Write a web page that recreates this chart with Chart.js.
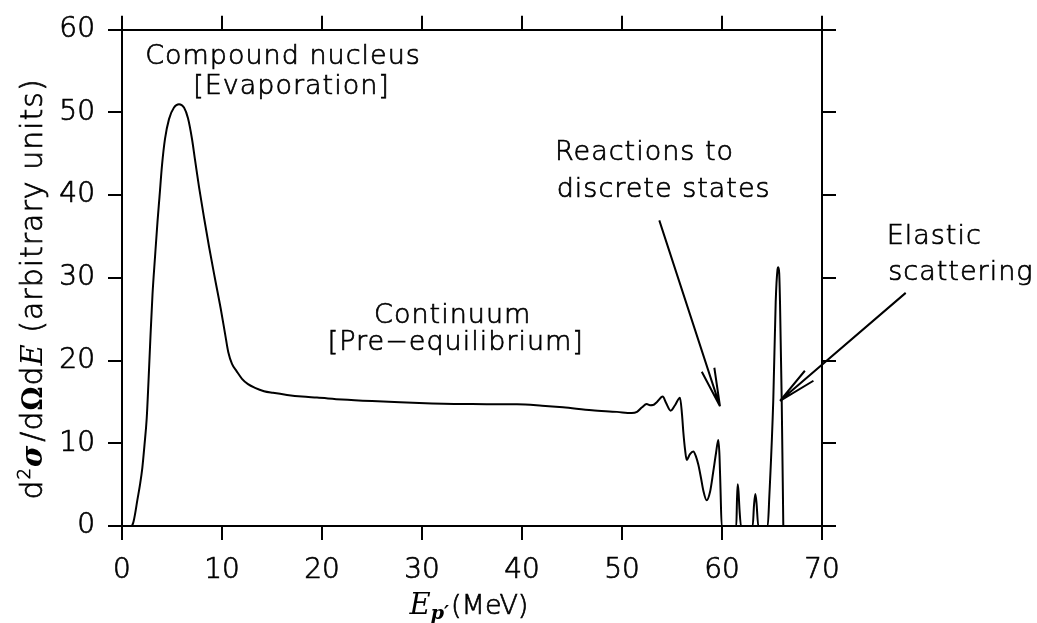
<!DOCTYPE html>
<html lang="en">
<head>
<meta charset="UTF-8">
<title>Proton emission spectrum</title>
<script src="https://cdn.jsdelivr.net/npm/chart.js"></script>
<style>
  body { margin: 0; background: #fff; }
  .wrap { width: 1037px; height: 623px; position: relative; }
</style>
</head>
<body>
<div class="wrap"><canvas id="spectrum"></canvas></div>
<script>
// outgoing proton energy (MeV)
const energy = [
  1.0, 1.15, 1.3, 1.53, 1.8, 2.03, 2.25, 2.47, 2.65, 2.85,
  3.05, 3.3, 3.55, 3.75, 4.0, 4.3, 4.7, 5.2, 5.7, 6.2,
  6.6, 7.0, 7.3, 7.7, 8.2, 8.7, 9.3, 9.87, 10.3, 10.63,
  11.0, 11.47, 12.0, 12.6, 13.3, 14.2, 15.1, 16.5,
  18, 19.5, 22, 25, 27.8, 31, 35, 39.5, 42, 44.1,
  47, 49.5, 50.97, 51.5, 52.0, 52.47, 52.8, 53.1, 53.5, 54.07,
  54.4, 54.87, 55.3, 55.8, 56.0, 56.13, 56.3, 56.47, 56.8, 57.13,
  57.4, 57.63, 57.9, 58.13, 58.47, 58.8, 59.13, 59.4, 59.63, 59.75,
  59.85, 59.97, 61.43, 61.5, 61.57, 61.65, 61.75, 61.9, 63.07, 63.2,
  63.33, 63.45, 63.63, 64.57, 64.73, 65.13, 65.37, 65.55, 65.63, 65.72,
  65.8, 65.97, 66.13
];
// double differential cross section (arbitrary units)
const sigma = [
  0, 0.5, 1.4, 3.1, 5.0, 7.0, 9.8, 13.0, 17.5, 23,
  28, 32.5, 36.8, 39.8, 43.6, 46.8, 49.2, 50.6, 51.0, 50.6,
  49.3, 46.8, 44.3, 41.0, 37.3, 33.8, 29.9, 26.3, 23.3, 21.0,
  19.6, 18.7, 17.8, 17.15, 16.7, 16.3, 16.1, 15.85,
  15.65, 15.53, 15.3, 15.1, 14.95, 14.82, 14.74, 14.72, 14.55, 14.35,
  14.0, 13.8, 13.65, 13.8, 14.35, 14.74, 14.6, 14.62, 15.0, 15.65,
  14.9, 13.95, 14.6, 15.5, 13.5, 11.4, 9.3, 8.0, 8.7, 9.0,
  8.4, 7.43, 5.8, 4.3, 3.1, 4.1, 6.6, 8.8, 10.4, 8.5,
  4.5, 0, 0, 3.2, 5.06, 4.2, 2, 0, 0, 2.5,
  3.87, 2.8, 0, 0, 3.5, 15.3, 27.1, 31.0, 31.3, 30.6,
  27.1, 15.3, 0
];

const xTicks = [0, 10, 20, 30, 40, 50, 60, 70];
const yTicks = [0, 10, 20, 30, 40, 50, 60];

// region labels, placed in data units
const noteText = ['Compound nucleus', '[Evaporation]', 'Continuum', '[Pre\u2212equilibrium]',
                  'Reactions to', 'discrete states', 'Elastic', 'scattering'];
const noteX = [16.1, 16.95, 33.07, 33.38, 43.3, 43.47, 76.47, 76.63];
const noteY = [55.85, 52.2, 24.5, 21.26, 44.2, 39.84, 34.1, 29.76];
const noteAlign = ['center', 'center', 'center', 'center', 'left', 'left', 'left', 'left'];

// pointer arrows: tail -> tip
const arrowFrom = [[53.73, 36.96], [78.37, 28.19]];
const arrowTo = [[59.8, 14.47], [65.8, 15.14]];

const FONT = 'DejaVu Sans';
const W = 1037, H = 623;

function fixBox(size, horizontal) {
  return scale => { if (horizontal) scale.height = size; else scale.width = size; };
}

function useTicks(list) {
  return scale => { scale.ticks = list.map(v => ({ value: v })); };
}

// draw a sequence of differently styled text pieces along the baseline
function drawRuns(ctx, runs, x, y) {
  let cx = x;
  runs.forEach(r => {
    ctx.font = r.font;
    ctx.fillText(r.text, cx, y - (r.rise || 0));
    if (r.thin) ctx.strokeText(r.text, cx, y - (r.rise || 0));
    cx += ctx.measureText(r.text).width + (r.gap || 0);
  });
}

function runsWidth(ctx, runs) {
  let w = 0;
  runs.forEach(r => { ctx.font = r.font; w += ctx.measureText(r.text).width + (r.gap || 0); });
  return w;
}

const annotate = {
  id: 'annotate',
  afterDraw(chart) {
    const ctx = chart.ctx;
    const xs = chart.scales.x, ys = chart.scales.y;
    ctx.save();
    ctx.fillStyle = '#000';
    ctx.strokeStyle = '#000';
    ctx.textBaseline = 'alphabetic';

    ctx.font = '200 27px "' + FONT + '"';
    ctx.letterSpacing = '1px';
    ctx.lineWidth = 0.7;
    noteText.forEach((t, i) => {
      ctx.textAlign = noteAlign[i];
      const px = xs.getPixelForValue(noteX[i]), py = ys.getPixelForValue(noteY[i]);
      ctx.fillText(t, px, py);
      ctx.strokeText(t, px, py);
    });

    ctx.lineWidth = 2;
    arrowFrom.forEach((from, i) => {
      const x0 = xs.getPixelForValue(from[0]), y0 = ys.getPixelForValue(from[1]);
      const x1 = xs.getPixelForValue(arrowTo[i][0]), y1 = ys.getPixelForValue(arrowTo[i][1]);
      const back = Math.atan2(y0 - y1, x0 - x1);
      ctx.beginPath();
      ctx.moveTo(x0, y0);
      ctx.lineTo(x1, y1);
      [-0.17, 0.17].forEach(da => {
        ctx.moveTo(x1, y1);
        ctx.lineTo(x1 + 39 * Math.cos(back + da), y1 + 39 * Math.sin(back + da));
      });
      ctx.stroke();
    });

    ctx.lineWidth = 0.7;
    ctx.textAlign = 'left';

    // x axis title: E_p' (MeV)
    ctx.letterSpacing = '0px';
    const xRuns = [
      { text: 'E', font: 'italic 29px "DejaVu Serif"', gap: 0 },
      { text: 'p\u2032', font: 'italic bold 19px "DejaVu Serif"', rise: -5, gap: 2 },
      { text: '(MeV)', font: '200 27px "' + FONT + '"', thin: true }
    ];
    drawRuns(ctx, xRuns, 469 - runsWidth(ctx, xRuns) / 2, 614);

    // y axis title, rotated
    ctx.letterSpacing = '1px';
    const yRuns = [
      { text: 'd', font: '200 30px "' + FONT + '"', thin: true },
      { text: '2', font: '200 18px "' + FONT + '"', rise: 12, thin: true },
      { text: '\u03c3', font: 'italic bold 29px "DejaVu Serif"', gap: 3 },
      { text: '/d', font: '200 30px "' + FONT + '"', thin: true },
      { text: '\u03a9', font: 'bold 27px "DejaVu Serif"' },
      { text: 'd', font: '200 30px "' + FONT + '"', thin: true },
      { text: 'E', font: 'italic 29px "DejaVu Serif"' },
      { text: ' (arbitrary units)', font: '200 30px "' + FONT + '"', thin: true }
    ];
    ctx.translate(42, 289);
    ctx.rotate(-Math.PI / 2);
    drawRuns(ctx, yRuns, -runsWidth(ctx, yRuns) / 2, 0);
    ctx.restore();
  }
};

const axisLine = { display: true, color: '#000', width: 2 };
const tickGrid = { drawOnChartArea: false, drawTicks: true, tickLength: 14, color: '#000', lineWidth: 2 };
const tickFont = { family: FONT, size: 28, weight: 200 };

new Chart(document.getElementById('spectrum'), {
  type: 'scatter',
  data: {
    datasets: [{
      data: energy.map((e, i) => ({ x: e, y: sigma[i] })),
      showLine: true,
      borderColor: '#000',
      borderWidth: 2,
      pointRadius: 0,
      cubicInterpolationMode: 'monotone',
      clip: 4
    }]
  },
  options: {
    responsive: true,
    maintainAspectRatio: false,
    animation: false,
    layout: { padding: 0 },
    plugins: { legend: { display: false }, tooltip: { enabled: false } },
    scales: {
      x: {
        type: 'linear', position: 'bottom', min: 0, max: 70,
        afterBuildTicks: useTicks(xTicks), afterFit: fixBox(H - 526, true),
        border: axisLine, grid: tickGrid,
        ticks: { color: '#000', font: tickFont, padding: 14, maxRotation: 0,
                 textStrokeColor: '#000', textStrokeWidth: 0.7 }
      },
      x2: {
        type: 'linear', position: 'top', min: 0, max: 70,
        afterBuildTicks: useTicks(xTicks), afterFit: fixBox(20, true),
        border: axisLine, grid: tickGrid, ticks: { display: false }
      },
      y: {
        type: 'linear', position: 'left', min: 0, max: 60,
        afterBuildTicks: useTicks(yTicks), afterFit: fixBox(122, false),
        border: axisLine, grid: tickGrid,
        ticks: { color: '#000', font: tickFont, padding: 13,
                 textStrokeColor: '#000', textStrokeWidth: 0.7 }
      },
      y2: {
        type: 'linear', position: 'right', min: 0, max: 60,
        afterBuildTicks: useTicks(yTicks), afterFit: fixBox(W - 822, false),
        border: axisLine, grid: tickGrid, ticks: { display: false }
      }
    }
  },
  plugins: [annotate]
});
</script>
</body>
</html>
